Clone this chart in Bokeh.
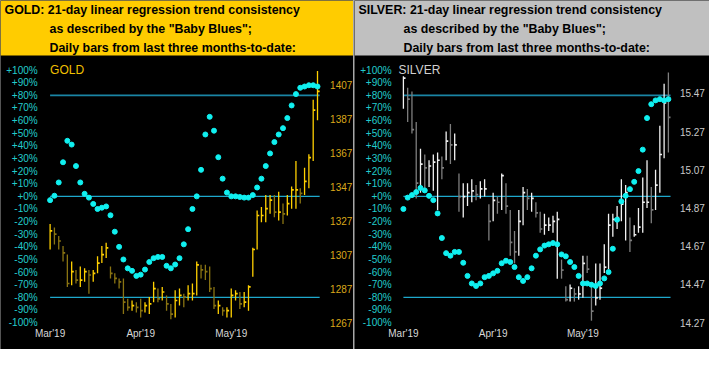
from bokeh.plotting import figure
from bokeh.models import Range1d, ColumnDataSource
from bokeh.layouts import row
from bokeh.core.properties import value
from bokeh.embed import file_html
from bokeh.resources import INLINE

# ---------------- data ----------------
MONTH_TICKS = [0, 21, 42]
MONTH_LABELS = ["Mar'19", "Apr'19", "May'19"]
PCT_TICKS = list(range(-100, 101, 10))
LEVELS = [80, 0, -80]

GOLD_BB = [-3, 0.5, 11, 27, 44, 41, 24, 11, 2, -1, -6, -10, -9, -8, -15, -28, -40, -50, -57, -59,
           -63, -62, -58, -52, -49, -48, -48, -55, -57, -54, -49, -38, -26, -10, 0, 21, 49, 63, 52, 31,
           14, 3, 0, 0, -0.5, -1, -1, 1, 7, 14, 24, 34, 43, 49, 54, 62, 72, 81, 86, 87,
           88, 88, 87]
GOLD_HIGH = [1325, 1323, 1318, 1312, 1307, 1303, 1298, 1300, 1299, 1298, 1298, 1306, 1312, 1314, 1300, 1296, 1293, 1293, 1281, 1280,
             1279, 1281, 1279, 1282, 1291, 1287, 1288, 1283, 1278, 1286, 1287, 1284, 1289, 1290, 1303, 1301, 1301, 1300, 1288, 1280,
             1276, 1276, 1287, 1286, 1285, 1285, 1289, 1311, 1333, 1335, 1342, 1342, 1342, 1344, 1337, 1342, 1347, 1362, 1346, 1358,
             1366, 1398, 1415]
GOLD_LOW = [1310, 1313, 1310, 1303, 1288, 1289, 1290, 1288, 1291, 1284, 1291, 1296, 1302, 1305, 1293, 1290, 1287, 1272, 1274, 1274,
            1273, 1270, 1273, 1272, 1279, 1279, 1280, 1274, 1269, 1270, 1277, 1276, 1280, 1280, 1283, 1293, 1292, 1285, 1275, 1272,
            1271, 1270, 1270, 1280, 1275, 1276, 1274, 1294, 1310, 1326, 1326, 1331, 1329, 1327, 1325, 1330, 1334, 1334, 1337, 1342,
            1346, 1362, 1386]
GOLD_CLOSE = [1321, 1319, 1315, 1308, 1290, 1297, 1292, 1292, 1297, 1295, 1296, 1302, 1307, 1311, 1296, 1293, 1291, 1279, 1276, 1277,
              1276, 1274, 1277, 1278, 1287, 1281, 1285, 1278, 1272, 1280, 1283, 1282, 1284, 1284, 1301, 1298, 1297, 1287, 1277, 1277,
              1274, 1274, 1283, 1284, 1278, 1279, 1288, 1310, 1330, 1330, 1334, 1339, 1332, 1332, 1331, 1337, 1345, 1345, 1343, 1350,
              1364, 1392, 1403]
GOLD_PRICE_TICKS = [1267, 1287, 1307, 1327, 1347, 1367, 1387, 1407]

SILVER_BB = [-10, -1, 1, 3.4, 6.7, 4.7, 0.4, -3, -13.5, -33, -45, -47, -44, -44, -52.6, -63, -69, -71, -69, -64,
             -63, -61, -59, -53, -51, -52, -56, -64, -67, -64, -57, -47, -42, -39, -38, -37, -38, -46, -47.5, -52,
             -56, -63, -69, -69, -70, -71, -69, -65, -60, -41.5, -18.5, -4, 0.5, 5.7, 11.5, 20, 37, 62, 73, 76,
             77, 76, 77]
SILVER_HIGH = [15.56, 15.50, 15.48, 15.32, 15.18, 15.15, 15.12, 15.15, 15.16, 15.14, 15.27, 15.31, 15.26, 15.05, 15.00, 15.00, 15.02, 14.99, 15.01, 15.02,
               14.89, 14.95, 14.93, 15.05, 15.00, 14.86, 14.75, 14.86, 14.98, 14.97, 14.95, 14.90, 14.85, 14.84, 14.82, 14.83, 14.85, 14.60, 14.46, 14.47,
               14.45, 14.46, 14.62, 14.62, 14.48, 14.58, 14.58, 14.68, 14.84, 14.84, 14.88, 15.02, 14.99, 14.82, 14.78, 14.87, 15.03, 15.12, 14.98, 15.07,
               15.30, 15.52, 15.58]
SILVER_LOW = [15.39, 15.32, 15.26, 14.92, 14.95, 14.97, 14.98, 14.96, 14.86, 15.02, 15.12, 15.10, 15.12, 14.85, 14.82, 14.88, 14.90, 14.91, 14.92, 14.93,
              14.70, 14.80, 14.84, 14.86, 14.84, 14.62, 14.58, 14.62, 14.78, 14.86, 14.85, 14.82, 14.74, 14.73, 14.75, 14.74, 14.50, 14.50, 14.38, 14.38,
              14.38, 14.39, 14.40, 14.53, 14.28, 14.36, 14.39, 14.53, 14.55, 14.72, 14.76, 14.80, 14.70, 14.64, 14.72, 14.74, 14.74, 14.87, 14.79, 14.86,
              14.95, 15.13, 15.16]
SILVER_CLOSE = [15.55, 15.44, 15.28, 15.00, 15.10, 15.08, 15.09, 15.11, 15.12, 15.08, 15.22, 15.20, 15.20, 14.93, 14.93, 14.95, 14.96, 14.94, 14.97, 14.97,
                14.80, 14.91, 14.90, 15.04, 14.88, 14.69, 14.64, 14.80, 14.95, 14.92, 14.92, 14.845, 14.76, 14.78, 14.78, 14.80, 14.81, 14.545, 14.39, 14.45,
                14.42, 14.42, 14.58, 14.55, 14.33, 14.40, 14.45, 14.56, 14.78, 14.81, 14.82, 14.89, 14.95, 14.70, 14.73, 14.77, 14.90, 14.90, 14.86, 14.99,
                15.15, 15.42, 15.345]
SILVER_PRICE_TICKS = [14.27, 14.47, 14.67, 14.87, 15.07, 15.27, 15.47]

HEAD_LINES_REST = ['as described by the "Baby Blues";', "Daily bars from last three months-to-date:"]

# ---------------- style / geometry (canvas pixels) ----------------
FONT = "Liberation Sans"
CYAN = "#10F0F0"
PCT_LABEL = "#22CCCC"
LINE_TOP = "#1A85A5"
LINE_OTHER = "#1EA8CC"
H = 349
HEAD_H = 55
PY_P100, PY_M100 = 69.6, 322.1      # pixel rows of +100% and -100%
PY_XLAB = 333.4


def panel(width, head_bg, head_first, name, name_color, name_px, bb, highs, lows, closes,
          price_ticks, price_fmt, p_at_m100, p_span, idx0_px, dx_px, price_label_px,
          bar_bright, bar_dark, price_color):
    pct_per_px = 200.0 / (PY_M100 - PY_P100)
    pct_top = 100 + PY_P100 * pct_per_px
    pct_bot = 100 - (H - PY_P100) * pct_per_px
    xr0, xr1 = -idx0_px / dx_px, (width - idx0_px) / dx_px
    to_price = lambda v: p_at_m100 + (v + 100) * p_span / 200.0
    x_of = lambda px: xr0 + px * (xr1 - xr0) / width
    y_of = lambda py: pct_top - py * pct_per_px

    p = figure(width=width, height=H, title=None, x_range=Range1d(xr0, xr1),
               y_range=Range1d(pct_bot, pct_top), output_backend="svg", toolbar_location=None,
               min_border=0, min_border_left=0, min_border_right=0, min_border_top=0, min_border_bottom=0,
               x_axis_type=None, y_axis_type=None)
    p.extra_y_ranges = {"price": Range1d(to_price(pct_bot), to_price(pct_top))}
    p.background_fill_color = "black"
    p.border_fill_color = "black"
    p.outline_line_color = None
    p.grid.visible = False

    # header block
    p.quad(left=[xr0], right=[xr1], bottom=[y_of(HEAD_H)], top=[pct_top], fill_color=head_bg,
           line_color=None)
    head_pos = [(4, 9.9), (49, 28.8), (49, 47.3)]
    p.text(x=[x_of(px) for px, _ in head_pos], y=[y_of(py) for _, py in head_pos],
           text=[head_first] + HEAD_LINES_REST, text_font=value(FONT), text_font_style="bold",
           text_font_size="12.4px", text_color="black", text_baseline="middle", text_align="left")

    # axis labels
    p.text(x=[x_of(37.2)] * len(PCT_TICKS), y=PCT_TICKS, text=[f"{v:+d}%" for v in PCT_TICKS],
           text_font=value(FONT), text_font_size="10px", text_color=PCT_LABEL,
           text_align="right", text_baseline="middle")
    p.text(x=[x_of(price_label_px)] * len(price_ticks), y=price_ticks, y_range_name="price",
           text=[price_fmt.format(v) for v in price_ticks], text_font=value(FONT),
           text_font_size="10px", text_color=price_color, text_align="left", text_baseline="middle")
    p.text(x=MONTH_TICKS, y=[y_of(PY_XLAB)] * len(MONTH_TICKS), text=MONTH_LABELS,
           text_font=value(FONT), text_font_size="10px", text_color="#D8D8D8",
           text_align="center", text_baseline="middle")

    n = len(closes)
    idx = list(range(n))
    for lv in LEVELS:
        p.segment(x0=0, x1=n - 0.5, y0=lv, y1=lv,
                  line_color=LINE_TOP if lv > 0 else LINE_OTHER,
                  line_width=1.6 if lv > 0 else 1.2)
    colors = [bar_bright if i == 0 or closes[i] >= closes[i - 1] else bar_dark for i in idx]
    src = ColumnDataSource(dict(x=idx, xr=[i + 0.5 for i in idx], hi=highs, lo=lows, cl=closes, c=colors))
    p.segment(x0="x", x1="x", y0="lo", y1="hi", source=src, line_color="c", line_width=1.3,
              y_range_name="price")
    p.segment(x0="x", x1="xr", y0="cl", y1="cl", source=src, line_color="c", line_width=1.7,
              y_range_name="price")
    p.scatter(x=idx, y=bb, size=5, color=CYAN)
    p.text(x=[x_of(name_px)], y=[100], text=[name], text_font=value(FONT), text_font_size="12px",
           text_color=name_color, text_baseline="middle", text_align="left")
    return p


gold = panel(353, "#FFCC00", "GOLD:  21-day linear regression trend consistency", "GOLD", "#F0C000", 49.6,
             GOLD_BB, GOLD_HIGH, GOLD_LOW, GOLD_CLOSE, GOLD_PRICE_TICKS, "{:.0f}", 1267, 148.5,
             49.6, 4.313, 329.6, "#FFD000", "#8A7412", "#D9A81A")
silver = panel(355, "#C0C0C0", "SILVER:  21-day linear regression trend consistency", "SILVER", "#D0D0D0", 44.0,
               SILVER_BB, SILVER_HIGH, SILVER_LOW, SILVER_CLOSE, SILVER_PRICE_TICKS, "{:.2f}", 14.27, 1.322,
               48.9, 4.274, 325.4, "#F2F2F2", "#7E7E7E", "#C8C8C8")

layout = row(gold, silver, spacing=1, styles={"background-color": "#A8A8A8"})

open("out.html", "w").write(file_html(layout, INLINE))
